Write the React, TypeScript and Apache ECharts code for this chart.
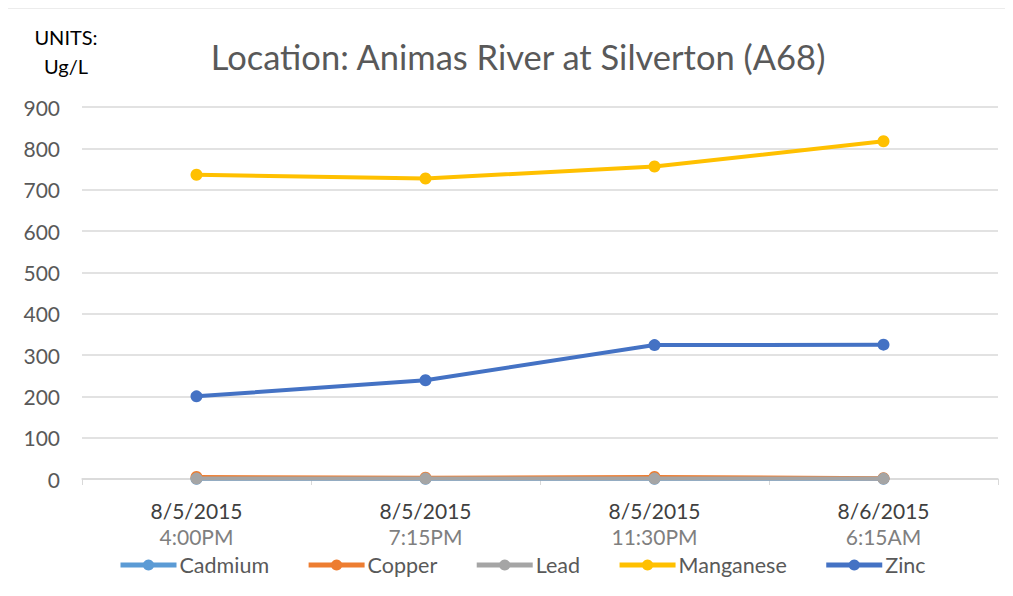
import React, { useEffect, useRef } from "react";
import * as echarts from "echarts";

const dates = ["8/5/2015", "8/5/2015", "8/5/2015", "8/6/2015"];
const times = ["4:00PM", "7:15PM", "11:30PM", "6:15AM"];
const cadmium = [0.5, 0.4, 0.5, 0.4];
const copper = [5, 3, 5, 2];
const lead = [1, 1, 1, 1];
const manganese = [736, 727, 756, 817];
const zinc = [200, 239, 324, 325];

const FONT = "Lato, 'Open Sans', sans-serif";

export default function App() {
  const ref = useRef<HTMLDivElement>(null);
  useEffect(() => {
    if (!ref.current) return;
    const chart = echarts.init(ref.current, null, { renderer: "svg" });
    const mk = (name: string, data: number[], color: string, z: number) => ({
      name,
      type: "line",
      data,
      z,
      symbol: "circle",
      symbolSize: 12,
      lineStyle: { width: 4, color },
      itemStyle: { color },
      emphasis: { disabled: true },
    });
    chart.setOption({
      animation: false,
      textStyle: { fontFamily: FONT },
      title: {
        text: "Location: Animas River at Silverton (A68)",
        left: 513,
        textAlign: "center",
        top: 34,
        textStyle: { fontFamily: FONT, fontSize: 34.5, fontWeight: "normal", color: "#595959" },
      },
      graphic: [
        {
          type: "rect",
          shape: { x: 5, y: 8, width: 1003, height: 586 },
          style: { fill: "none", stroke: "#d9d9d9", lineWidth: 1 },
        },
        {
          type: "text",
          x: 66,
          y: 22,
          style: {
            text: "UNITS:\nUg/L",
            align: "center",
            fill: "#000000",
            font: `20px ${FONT}`,
            lineHeight: 29,
          },
        },
      ],
      legend: {
        bottom: 15,
        left: 113,
        itemWidth: 56,
        itemHeight: 14,
        itemGap: 37,
        lineStyle: { width: 5 },
        textStyle: { fontFamily: FONT, fontSize: 21.5, color: "#595959", padding: [0, 0, 0, -2] },
        data: ["Cadmium", "Copper", "Lead", "Manganese", "Zinc"],
      },
      grid: { left: 82, right: 15, top: 107, bottom: 117, containLabel: false },
      xAxis: {
        type: "category",
        data: dates.map((d, i) => `${d}\n${times[i]}`),
        boundaryGap: true,
        axisLine: { lineStyle: { color: "#d9d9d9", width: 1.5 } },
        axisTick: { show: true, length: 6, lineStyle: { color: "#d9d9d9" } },
        axisLabel: {
          margin: 18,
          formatter: (v: string) => {
            const [a, b] = v.split("\n");
            return `{a|${a}}\n{b|${b}}`;
          },
          rich: {
            a: { fontFamily: FONT, fontSize: 21, color: "#404040", lineHeight: 26 },
            b: { fontFamily: FONT, fontSize: 21, color: "#7f7f7f", lineHeight: 26 },
          },
        },
      },
      yAxis: {
        type: "value",
        min: 0,
        max: 900,
        interval: 100,
        axisLine: { show: false },
        axisTick: { show: false },
        axisLabel: { fontFamily: FONT, fontSize: 21, color: "#595959", margin: 22 },
        splitLine: { lineStyle: { color: "#d9d9d9", width: 1.5 } },
      },
      series: [
        mk("Cadmium", cadmium, "#5b9bd5", 2),
        mk("Copper", copper, "#ed7d31", 3),
        mk("Lead", lead, "#a5a5a5", 4),
        mk("Manganese", manganese, "#ffc000", 5),
        mk("Zinc", zinc, "#4472c4", 6),
      ],
    });
    return () => chart.dispose();
  }, []);
  return <div ref={ref} style={{ width: 1013, height: 596, margin: -8 }} />;
}
